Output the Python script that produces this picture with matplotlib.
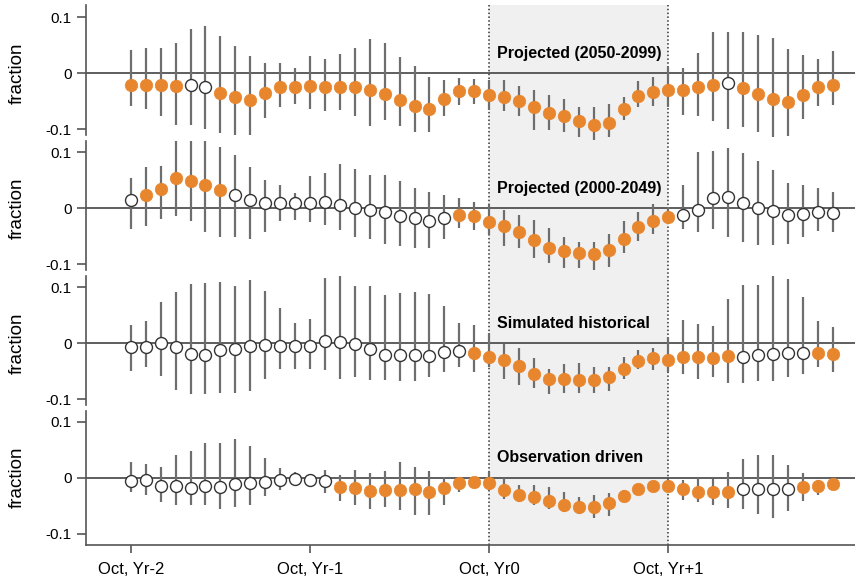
import numpy as np
import matplotlib
matplotlib.use("Agg")
import matplotlib.pyplot as plt

plt.rcParams['font.family'] = ['Liberation Sans', 'DejaVu Sans']

# months from Oct Yr-2, one point per month
n_months = 48
tick_pos = [0, 12, 24, 36]
tick_labels = ['Oct, Yr-2', 'Oct, Yr-1', 'Oct, Yr0', 'Oct, Yr+1']
titles = ['Projected (2050-2099)', 'Projected (2000-2049)',
          'Simulated historical', 'Observation driven']

proj2050_mean = [-0.021, -0.021, -0.021, -0.022, -0.021, -0.024, -0.035, -0.042, -0.048, -0.036,
                 -0.025, -0.024, -0.022, -0.024, -0.024, -0.025, -0.030, -0.037, -0.048, -0.058,
                 -0.063, -0.046, -0.031, -0.031, -0.038, -0.043, -0.049, -0.060, -0.070, -0.076,
                 -0.086, -0.093, -0.089, -0.063, -0.040, -0.033, -0.030, -0.029, -0.025, -0.021,
                 -0.018, -0.027, -0.037, -0.046, -0.051, -0.038, -0.025, -0.021]
proj2050_hi = [0.042, 0.045, 0.045, 0.054, 0.080, 0.085, 0.067, 0.048, 0.031, 0.018,
               0.019, 0.009, 0.031, 0.025, 0.035, 0.045, 0.061, 0.054, 0.029, 0.013,
               -0.006, -0.012, -0.009, -0.011, -0.012, -0.012, -0.023, -0.029, -0.039, -0.046,
               -0.060, -0.061, -0.054, -0.042, -0.013, -0.006, 0.012, 0.009, 0.037, 0.073,
               0.074, 0.073, 0.068, 0.063, 0.043, 0.033, 0.025, 0.040]
proj2050_lo = [-0.058, -0.064, -0.076, -0.092, -0.092, -0.100, -0.107, -0.110, -0.110, -0.080,
               -0.060, -0.054, -0.064, -0.068, -0.065, -0.076, -0.094, -0.083, -0.094, -0.104,
               -0.104, -0.077, -0.057, -0.054, -0.065, -0.068, -0.077, -0.101, -0.101, -0.104,
               -0.113, -0.119, -0.113, -0.083, -0.060, -0.058, -0.060, -0.074, -0.077, -0.085,
               -0.100, -0.096, -0.104, -0.114, -0.112, -0.082, -0.058, -0.057]
proj2050_open = [4, 5, 40]

proj2000_mean = [0.015, 0.023, 0.034, 0.054, 0.049, 0.042, 0.033, 0.024, 0.014, 0.010,
                 0.010, 0.010, 0.010, 0.012, 0.006, 0.000, -0.003, -0.007, -0.014, -0.018,
                 -0.022, -0.017, -0.012, -0.013, -0.024, -0.032, -0.042, -0.057, -0.070, -0.076,
                 -0.080, -0.082, -0.074, -0.054, -0.033, -0.023, -0.015, -0.012, -0.003, 0.018,
                 0.021, 0.009, 0.001, -0.005, -0.012, -0.011, -0.007, -0.009]
proj2000_hi = [0.055, 0.073, 0.076, 0.120, 0.120, 0.120, 0.110, 0.096, 0.074, 0.051,
               0.042, 0.027, 0.057, 0.063, 0.079, 0.070, 0.060, 0.060, 0.048, 0.036,
               0.029, 0.023, 0.018, 0.012, 0.006, -0.003, -0.012, -0.021, -0.035, -0.051,
               -0.061, -0.061, -0.046, -0.023, -0.007, 0.007, 0.003, 0.042, 0.100, 0.102,
               0.107, 0.098, 0.085, 0.068, 0.045, 0.042, 0.037, 0.029]
proj2000_lo = [-0.037, -0.031, -0.019, -0.013, -0.023, -0.043, -0.051, -0.052, -0.055, -0.042,
               -0.023, -0.021, -0.025, -0.029, -0.039, -0.052, -0.055, -0.063, -0.068, -0.071,
               -0.071, -0.055, -0.036, -0.039, -0.048, -0.068, -0.071, -0.089, -0.098, -0.106,
               -0.106, -0.110, -0.104, -0.080, -0.058, -0.046, -0.025, -0.037, -0.043, -0.037,
               -0.052, -0.061, -0.065, -0.065, -0.064, -0.051, -0.040, -0.043]
proj2000_open = [0] + list(range(7, 22)) + list(range(37, 48))

hist_mean = [-0.006, -0.006, 0.000, -0.006, -0.019, -0.021, -0.012, -0.010, -0.005, -0.003,
             -0.005, -0.005, -0.005, 0.005, 0.003, -0.001, -0.010, -0.021, -0.021, -0.021,
             -0.022, -0.015, -0.014, -0.018, -0.025, -0.030, -0.040, -0.055, -0.063, -0.064,
             -0.065, -0.065, -0.061, -0.046, -0.031, -0.027, -0.029, -0.024, -0.024, -0.027,
             -0.023, -0.024, -0.021, -0.019, -0.018, -0.018, -0.018, -0.019]
hist_hi = [0.033, 0.039, 0.073, 0.092, 0.106, 0.108, 0.110, 0.102, 0.113, 0.094,
           0.063, 0.036, 0.043, 0.116, 0.120, 0.102, 0.102, 0.086, 0.090, 0.092,
           0.088, 0.067, 0.037, 0.033, 0.018, -0.001, -0.009, -0.027, -0.046, -0.037,
           -0.036, -0.042, -0.042, -0.024, -0.012, -0.009, 0.011, 0.042, 0.035, 0.031,
           0.079, 0.104, 0.104, 0.120, 0.114, 0.082, 0.040, 0.029]
hist_lo = [-0.049, -0.042, -0.058, -0.083, -0.090, -0.090, -0.089, -0.089, -0.085, -0.064,
           -0.046, -0.045, -0.046, -0.048, -0.064, -0.061, -0.065, -0.065, -0.068, -0.068,
           -0.060, -0.051, -0.042, -0.051, -0.042, -0.064, -0.074, -0.080, -0.090, -0.089,
           -0.089, -0.088, -0.085, -0.064, -0.046, -0.048, -0.052, -0.055, -0.064, -0.061,
           -0.071, -0.071, -0.068, -0.068, -0.061, -0.055, -0.042, -0.051]
hist_open = list(range(0, 23)) + [41, 42, 43, 44, 45]

obs_mean = [-0.006, -0.004, -0.014, -0.014, -0.019, -0.014, -0.016, -0.012, -0.010, -0.007,
            -0.004, -0.002, -0.004, -0.006, -0.016, -0.019, -0.024, -0.022, -0.022, -0.020,
            -0.026, -0.018, -0.010, -0.008, -0.010, -0.022, -0.030, -0.034, -0.042, -0.048,
            -0.052, -0.052, -0.046, -0.032, -0.020, -0.014, -0.014, -0.020, -0.026, -0.026,
            -0.025, -0.020, -0.020, -0.020, -0.020, -0.016, -0.014, -0.012]
obs_hi = [0.028, 0.024, 0.020, 0.041, 0.048, 0.062, 0.062, 0.069, 0.057, 0.035,
          0.018, 0.011, 0.006, 0.014, 0.005, 0.014, 0.008, 0.012, 0.028, 0.020,
          0.012, 0.002, 0.002, 0.000, 0.011, 0.000, -0.013, -0.013, -0.016, -0.025,
          -0.034, -0.031, -0.028, -0.022, -0.013, -0.007, -0.004, -0.004, 0.000, -0.002,
          0.011, 0.034, 0.041, 0.040, 0.023, 0.008, -0.004, -0.006]
obs_lo = [-0.025, -0.030, -0.044, -0.048, -0.048, -0.049, -0.055, -0.052, -0.048, -0.032,
          -0.022, -0.013, -0.014, -0.028, -0.042, -0.048, -0.055, -0.052, -0.058, -0.066,
          -0.067, -0.048, -0.026, -0.016, -0.022, -0.038, -0.043, -0.049, -0.055, -0.062,
          -0.064, -0.072, -0.068, -0.044, -0.026, -0.020, -0.024, -0.040, -0.043, -0.048,
          -0.054, -0.056, -0.064, -0.072, -0.060, -0.042, -0.030, -0.020]
obs_open = list(range(0, 14)) + [41, 42, 43, 44]

panels = [
    (proj2050_mean, proj2050_lo, proj2050_hi, proj2050_open),
    (proj2000_mean, proj2000_lo, proj2000_hi, proj2000_open),
    (hist_mean, hist_lo, hist_hi, hist_open),
    (obs_mean, obs_lo, obs_hi, obs_open),
]

orange = '#E8862E'
bar_grey = '#6E6E6E'
spine_grey = '#555555'

W, H = 855, 581
x_left, x_right = 86, 855
xlim = (-3, 48.5)
# (top px, bottom px, ylim) per panel
boxes = [(5.0, 134.9, (-0.11, 0.122)),
         (141.1, 269.9, (-0.11, 0.12)),
         (276.1, 404.9, (-0.11, 0.12)),
         (410.5, 544.9, (-0.12, 0.12))]

fig = plt.figure(figsize=(W / 100, H / 100), dpi=100)

# shaded water year and dotted boundaries behind all panels
bg = fig.add_axes([x_left / W, 1 - 545 / H, (x_right - x_left) / W, 540 / H])
bg.set_xlim(*xlim)
bg.set_ylim(0, 1)
bg.axis('off')
bg.axvspan(24, 36, color='#F0F0F0', lw=0)
for xv in (24, 36):
    bg.axvline(xv, color='#333333', lw=1.1, ls=(0, (1, 1.5)))

x = np.arange(n_months)
for i, ((mean, lo, hi, open_idx), (top, bot, ylim)) in enumerate(zip(panels, boxes)):
    ax = fig.add_axes([x_left / W, 1 - bot / H, (x_right - x_left) / W, (bot - top) / H])
    ax.patch.set_visible(False)
    ax.set_xlim(*xlim)
    ax.set_ylim(*ylim)
    for s in ['top', 'right']:
        ax.spines[s].set_visible(False)
    ax.spines['left'].set_color(spine_grey)
    ax.spines['left'].set_linewidth(1.2)
    last = i == len(panels) - 1
    if last:
        ax.spines['bottom'].set_color(spine_grey)
        ax.spines['bottom'].set_linewidth(1.2)
        ax.set_xticks(tick_pos)
        ax.set_xticklabels(tick_labels, fontsize=12)
        ax.tick_params(axis='x', length=6, width=1.2, color=spine_grey, pad=6)
    else:
        ax.spines['bottom'].set_visible(False)
        ax.set_xticks([])
    ax.set_yticks([-0.1, 0, 0.1])
    ax.set_yticklabels(['-0.1', '0', '0.1'], fontsize=11)
    ax.tick_params(axis='y', length=6.5, width=1.2, color=spine_grey, pad=4)

    ax.axhline(0, color='#333333', lw=1.1, zorder=1)

    mean = np.array(mean)
    is_open = np.zeros(n_months, dtype=bool)
    is_open[open_idx] = True
    ax.vlines(x, lo, hi, color=bar_grey, lw=1.6, zorder=2, clip_on=False)
    ax.plot(x[~is_open], mean[~is_open], 'o', ms=9.0, mfc=orange, mec=orange,
            mew=0.5, zorder=3, clip_on=False)
    ax.plot(x[is_open], mean[is_open], 'o', ms=8.6, mfc='white', mec='#333333',
            mew=1.0, zorder=3, clip_on=False)

    ax.text(24.5, 0.036, titles[i], fontsize=11.5, fontweight='bold',
            ha='left', va='center', zorder=4)

    ax.set_ylabel('fraction', fontsize=13.5)
    ax.yaxis.set_label_coords(-0.078, (0 - ylim[0]) / (ylim[1] - ylim[0]))

fig.savefig('out.png', dpi=100)
